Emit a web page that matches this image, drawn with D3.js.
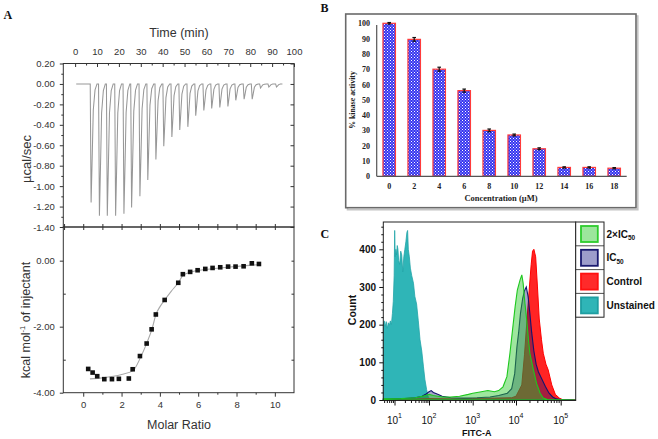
<!DOCTYPE html>
<html><head><meta charset="utf-8">
<script src="https://cdn.jsdelivr.net/npm/d3@7"></script>
<style>
html,body{margin:0;padding:0;background:#fff;}
svg{display:block;}
</style></head>
<body>
<svg id="fig" width="658" height="439"></svg>
<script>
// ---------------- Panel A : ITC raw thermogram ----------------
const injectionTimes = [7.0,10.8,14.4,18.2,22.0,25.5,29.3,32.9,36.6,40.2,43.9,47.5,51.2,54.8,58.5,62.1,65.8,69.5,73.1,76.9,80.6,84.4,88.2,91.7];
const peakHeats = [-1.16,-1.29,-1.29,-1.29,-1.27,-1.21,-1.10,-0.94,-0.74,-0.61,-0.52,-0.45,-0.42,-0.31,-0.26,-0.24,-0.23,-0.22,-0.16,-0.15,-0.15,-0.04,-0.03,-0.03];
const timeTicks = [0,10,20,30,40,50,60,70,80,90,100];
const rawTicks = [0.20,0.00,-0.20,-0.40,-0.60,-0.80,-1.00,-1.20,-1.40];
// spike shape template (minutes after injection, fraction of peak)
const spikeShape = [[-0.1,0],[0.3,1],[0.8,0.62],[1.3,0.22],[2.1,0.05],[3.0,0]];

// ---------------- Panel A : integrated heats ----------------
const molarRatio = [0.26,0.49,0.73,1.10,1.50,1.86,2.38,2.58,2.96,3.31,3.57,3.79,4.25,4.96,5.20,5.58,5.97,6.37,6.75,7.15,7.56,7.95,8.37,8.80,9.17];
const injHeat = [-3.28,-3.39,-3.50,-3.59,-3.59,-3.58,-3.57,-3.29,-2.89,-2.51,-2.08,-1.63,-1.19,-0.67,-0.41,-0.34,-0.29,-0.25,-0.22,-0.20,-0.18,-0.18,-0.17,-0.08,-0.10];
const fitRatio = [0.35,1.0,2.0,2.6,3.0,3.3,3.6,3.8,4.0,4.25,4.6,4.96,5.2,5.6,6.5,7.5,8.5,9.2];
const fitHeat = [-3.58,-3.55,-3.45,-3.33,-2.92,-2.52,-2.05,-1.62,-1.40,-1.19,-0.92,-0.67,-0.45,-0.35,-0.26,-0.20,-0.15,-0.12];
const molarTicks = [0,2,4,6,8,10];
const heatTicks = [0,-2,-4];

// ---------------- Panel B : kinase activity ----------------
const concentrations = ["0","2","4","6","8","10","12","14","16","18"];
const kinaseActivity = [100,89.5,70,56,30,27,18,5.8,5.8,5.3];
const activityError = [0.5,1.2,1.3,1.0,0.9,0.6,0.6,0.4,0.4,0.4];
const activityTicks = [0,10,20,30,40,50,60,70,80,90,100];

// ---------------- Panel C : flow cytometry ----------------
const fitcDecades = [1,2,3,4,5];
const countTicks = [0,100,200,300,400];
const legendNames = ["2×IC","IC","Control","Unstained"];
const unstained = [[0.675,200],[0.70,210],[0.73,195],[0.76,208],[0.79,190],[0.82,205],[0.85,198],[0.88,210],[0.91,200],[0.94,230],[0.965,262],[0.99,330],[1.005,450],[1.02,380],[1.04,400],[1.06,385],[1.08,410],[1.10,400],[1.12,370],[1.15,360],[1.18,395],[1.21,385],[1.24,340],[1.27,380],[1.30,400],[1.33,420],[1.36,445],[1.38,450],[1.40,400],[1.43,380],[1.46,350],[1.50,330],[1.55,310],[1.59,275],[1.64,255],[1.69,210],[1.74,160],[1.79,130],[1.84,88],[1.88,55],[1.93,28],[1.98,8],[2.03,2],[2.1,0]];
const ic50 = [[0.675,2],[1.0,3],[1.3,4],[1.6,6],[1.8,10],[1.9,15],[2.0,22],[2.05,25],[2.1,20],[2.2,15],[2.3,10],[2.5,6],[2.8,5],[3.1,6],[3.4,8],[3.6,12],[3.8,18],[3.9,30],[3.97,70],[4.02,140],[4.06,180],[4.10,230],[4.15,270],[4.19,290],[4.23,300],[4.27,275],[4.31,230],[4.35,180],[4.40,130],[4.45,95],[4.50,75],[4.58,55],[4.66,35],[4.74,18],[4.82,8],[4.9,3],[5.0,1],[5.34,0]];
const ic50x2 = [[0.675,3],[1.2,4],[1.6,6],[1.9,12],[2.0,15],[2.1,12],[2.3,8],[2.5,8],[2.7,10],[2.9,15],[3.0,18],[3.1,20],[3.2,22],[3.35,25],[3.5,22],[3.6,25],[3.7,35],[3.79,62],[3.86,124],[3.92,186],[3.98,248],[4.03,292],[4.09,318],[4.13,332],[4.16,310],[4.20,257],[4.24,212],[4.28,159],[4.31,124],[4.39,80],[4.46,44],[4.54,18],[4.61,5],[4.7,1],[5.34,0]];
const control = [[0.675,0],[1.5,2],[2.0,4],[2.5,3],[3.0,4],[3.5,5],[3.9,6],[4.0,10],[4.13,40],[4.19,120],[4.25,220],[4.30,300],[4.34,360],[4.37,395],[4.40,400],[4.44,380],[4.48,300],[4.52,215],[4.57,160],[4.61,124],[4.67,95],[4.72,80],[4.80,40],[4.88,15],[4.97,5],[5.06,0],[5.34,0]];

const svg = d3.select("#fig");
const SANS = "'Liberation Sans', Arial, sans-serif";
const SERIF = "'Liberation Serif', 'Times New Roman', serif";

function cleanAxis(g, col){
  g.select(".domain").remove();
  g.selectAll(".tick line").attr("stroke", col);
  g.selectAll("text").attr("font-family", SANS);
}

// ===== Panel A top =====
const xTime = d3.scaleLinear().domain([-5.4,100]).range([63.3,294]);
const yRaw = d3.scaleLinear().domain([-1.40,0.20]).range([227,63.5]);
const fmt2 = d => d.toFixed(2);

const trace = [[0.5,0]];
injectionTimes.forEach((t,i)=>{
  spikeShape.forEach(s=> trace.push([t+s[0], peakHeats[i]*s[1]]));
});
trace.push([93.6,0]);
svg.append("path")
  .attr("d", d3.line().x(d=>xTime(d[0])).y(d=>yRaw(d[1]))(trace))
  .attr("fill","none").attr("stroke","#979797").attr("stroke-width",1.05);

let g;
g = svg.append("g").attr("transform","translate(63.3,0)")
  .call(d3.axisLeft(yRaw).tickValues(rawTicks).tickFormat(fmt2).tickSize(3.5).tickPadding(5));
cleanAxis(g,"#333"); g.selectAll("text").attr("font-size",9.5).attr("fill","#333");
g = svg.append("g").attr("transform","translate(63.3,0)")
  .call(d3.axisLeft(yRaw).tickValues(d3.range(0.1,-1.41,-0.2)).tickFormat("").tickSize(2));
cleanAxis(g,"#333");
g = svg.append("g").attr("transform","translate(294,0)")
  .call(d3.axisRight(yRaw).tickValues(rawTicks).tickFormat("").tickSize(-3.5));
cleanAxis(g,"#333");
g = svg.append("g").attr("transform","translate(0,63.5)")
  .call(d3.axisTop(xTime).tickValues(timeTicks).tickSize(-3.5).tickPadding(8.3));
cleanAxis(g,"#333"); g.selectAll("text").attr("font-size",9.5).attr("fill","#333");
g = svg.append("g").attr("transform","translate(0,63.5)")
  .call(d3.axisTop(xTime).tickValues(d3.range(5,100,10)).tickFormat("").tickSize(-2));
cleanAxis(g,"#333");

// ===== Panel A bottom =====
const xMolar = d3.scaleLinear().domain([-1.04,11.0]).range([63.3,294]);
const yKcal = d3.scaleLinear().domain([-4.0,1.02]).range([392.7,227]);

g = svg.append("g").attr("transform","translate(0,227)")
  .call(d3.axisBottom(xMolar).tickValues(d3.range(-1,11,1)).tickFormat("").tickSize(-3));
cleanAxis(g,"#333");
g = svg.append("g").attr("transform","translate(0,227)")
  .call(d3.axisTop(xMolar).tickValues(d3.range(-1,11,1)).tickFormat("").tickSize(-3));
cleanAxis(g,"#333");
g = svg.append("g").attr("transform","translate(63.3,0)")
  .call(d3.axisLeft(yKcal).tickValues(heatTicks).tickFormat(fmt2).tickSize(3.5).tickPadding(5));
cleanAxis(g,"#333"); g.selectAll("text").attr("font-size",9.5).attr("fill","#333");
g = svg.append("g").attr("transform","translate(63.3,0)")
  .call(d3.axisLeft(yKcal).tickValues([-1,-3]).tickFormat("").tickSize(-2.5));
cleanAxis(g,"#333");
g = svg.append("g").attr("transform","translate(294,0)")
  .call(d3.axisRight(yKcal).tickValues([0,-1,-2,-3]).tickFormat("").tickSize(-2.5));
cleanAxis(g,"#333");
g = svg.append("g").attr("transform","translate(0,392.7)")
  .call(d3.axisBottom(xMolar).tickValues(molarTicks).tickSize(4).tickPadding(5));
cleanAxis(g,"#333"); g.selectAll("text").attr("font-size",9.5).attr("fill","#333");
g = svg.append("g").attr("transform","translate(0,392.7)")
  .call(d3.axisBottom(xMolar).tickValues([1,3,5,7,9]).tickFormat("").tickSize(2));
cleanAxis(g,"#333");

svg.append("path")
  .attr("d", d3.line().x((d,i)=>xMolar(fitRatio[i])).y((d,i)=>yKcal(fitHeat[i])).curve(d3.curveMonotoneX)(fitRatio))
  .attr("fill","none").attr("stroke","#a8a8a8").attr("stroke-width",1.1);
svg.append("g").selectAll("rect").data(molarRatio).join("rect")
  .attr("x",(d)=>xMolar(d)-2.3).attr("y",(d,i)=>yKcal(injHeat[i])-2.3)
  .attr("width",4.6).attr("height",4.6).attr("fill","#111");

// frames
svg.append("rect").attr("x",63.3).attr("y",63.5).attr("width",230.7).attr("height",163.5)
  .attr("fill","none").attr("stroke","#333").attr("stroke-width",1);
svg.append("rect").attr("x",63.3).attr("y",227).attr("width",230.7).attr("height",165.7)
  .attr("fill","none").attr("stroke","#333").attr("stroke-width",1);

// titles
svg.append("text").attr("x",179).attr("y",36.5).attr("text-anchor","middle")
  .attr("font-family",SANS).attr("font-size",12.5).attr("fill","#333").text("Time (min)");
svg.append("text").attr("transform","translate(31,159) rotate(-90)").attr("text-anchor","middle")
  .attr("font-family",SANS).attr("font-size",13).attr("fill","#333").text("µcal/sec");
const kt = svg.append("text").attr("transform","translate(29.5,320) rotate(-90)").attr("text-anchor","middle")
  .attr("font-family",SANS).attr("font-size",12.5).attr("fill","#333");
kt.append("tspan").text("kcal mol");
kt.append("tspan").attr("font-size",7.5).attr("dy",-5).text("-1");
kt.append("tspan").attr("dy",5).text(" of injectant");
svg.append("text").attr("x",179).attr("y",428.5).attr("text-anchor","middle")
  .attr("font-family",SANS).attr("font-size",12.5).attr("fill","#333").text("Molar Ratio");

// panel letters
[["A",3.5,19.3],["B",320.5,11.7],["C",320.5,238.3]].forEach(p=>{
  svg.append("text").attr("x",p[1]).attr("y",p[2]).attr("font-family",SERIF)
    .attr("font-weight","bold").attr("font-size",12).attr("fill","#111").text(p[0]);
});

// ===== Panel B =====
svg.append("rect").attr("x",347.5).attr("y",16).attr("width",290.3).attr("height",193.7)
  .attr("fill","none").attr("stroke","#c4c4c4").attr("stroke-width",1.6);
svg.append("rect").attr("x",345.7).attr("y",14).attr("width",290.3).attr("height",193.7)
  .attr("fill","#fff").attr("stroke","#6a6a6a").attr("stroke-width",1.6);

const defs = svg.append("defs");
const pat = defs.append("pattern").attr("id","chk").attr("patternUnits","userSpaceOnUse")
  .attr("width",3).attr("height",3);
pat.append("rect").attr("width",3).attr("height",3).attr("fill","#3434f0");
pat.append("rect").attr("width",1).attr("height",1).attr("fill","#ffffff");
pat.append("rect").attr("x",1.5).attr("y",1.5).attr("width",1).attr("height",1).attr("fill","#dcdcff");

const xB = d3.scaleBand().domain(concentrations).range([376.7,626.7]).paddingInner(0.5).paddingOuter(0.25);
const yB = d3.scaleLinear().domain([0,100]).range([176.3,23.3]);

svg.append("g").selectAll("rect").data(concentrations).join("rect")
  .attr("x",d=>xB(d)).attr("y",(d,i)=>yB(kinaseActivity[i]))
  .attr("width",xB.bandwidth()).attr("height",(d,i)=>yB(0)-yB(kinaseActivity[i]))
  .attr("fill","url(#chk)").attr("stroke","#ff3b3b").attr("stroke-width",1.2);
const eb = svg.append("g").attr("stroke","#111").attr("stroke-width",1.2);
concentrations.forEach((c,i)=>{
  const cx = xB(c)+xB.bandwidth()/2;
  const v = kinaseActivity[i], e = activityError[i];
  eb.append("line").attr("x1",cx).attr("x2",cx).attr("y1",yB(v+e)).attr("y2",yB(v-e));
  eb.append("line").attr("x1",cx-1.8).attr("x2",cx+1.8).attr("y1",yB(v+e)).attr("y2",yB(v+e));
  eb.append("line").attr("x1",cx-1.8).attr("x2",cx+1.8).attr("y1",yB(v-e)).attr("y2",yB(v-e));
});

g = svg.append("g").attr("transform","translate(376.7,0)")
  .call(d3.axisLeft(yB).tickValues(activityTicks).tickSize(0).tickPadding(6.7));
g.select(".domain").attr("stroke","#555").attr("stroke-width",1.2).attr("d","M0,25V176.3");
g.selectAll("text").attr("font-family",SERIF).attr("font-weight","bold").attr("font-size",8).attr("fill","#222");
g = svg.append("g").attr("transform","translate(0,176.3)")
  .call(d3.axisBottom(xB).tickSize(0).tickPadding(7));
g.select(".domain").attr("stroke","#555").attr("stroke-width",1.2).attr("d","M376.7,0H626.7");
g.selectAll("text").attr("font-family",SERIF).attr("font-weight","bold").attr("font-size",8).attr("fill","#222");

svg.append("text").attr("transform","translate(355,100) rotate(-90)").attr("text-anchor","middle")
  .attr("font-family",SERIF).attr("font-weight","bold").attr("font-size",7.8).attr("fill","#222").text("% kinase activity");
svg.append("text").attr("x",501).attr("y",200.5).attr("text-anchor","middle")
  .attr("font-family",SERIF).attr("font-weight","bold").attr("font-size",8.5).attr("fill","#222").text("Concentration  (µM)");

// ===== Panel C =====
const xC = d3.scaleLinear().domain([0.675,1,2,3,4,5,5.34]).range([383.3,394.5,429,472.7,516,560.7,575.7]);
const yC = d3.scaleLinear().domain([0,400]).range([400,249.3]);
const areaC = d3.area().x(d=>xC(d[0])).y0(yC(0)).y1(d=>yC(d[1]));

svg.append("path").attr("d",areaC(unstained)).attr("fill","#2fb5b7").attr("stroke","#22a5a8").attr("stroke-width",0.8);
svg.append("path").attr("d",areaC(control)).attr("fill","#ff2424").attr("stroke","#ff0000").attr("stroke-width",1);
svg.append("path").attr("d",areaC(ic50)).attr("fill","rgba(20,20,110,0.38)").attr("stroke","#14146e").attr("stroke-width",1.1);
svg.append("path").attr("d",areaC(ic50x2)).attr("fill","rgba(40,200,40,0.45)").attr("stroke","#1ec81e").attr("stroke-width",1.1);

svg.append("rect").attr("x",383.3).attr("y",222).attr("width",192.4).attr("height",178.5)
  .attr("fill","none").attr("stroke","#222").attr("stroke-width",1);

g = svg.append("g").attr("transform","translate(383.3,0)")
  .call(d3.axisLeft(yC).tickValues(countTicks).tickSize(4).tickPadding(3.3));
cleanAxis(g,"#111");
g.selectAll("text").attr("font-weight","bold").attr("font-size",10).attr("fill","#111");
g = svg.append("g").attr("transform","translate(383.3,0)")
  .call(d3.axisLeft(yC).tickValues(d3.range(20,461,20).filter(v=>v%100!==0)).tickFormat("").tickSize(2));
cleanAxis(g,"#111");

const minorLog = [];
[0,1,2,3,4].forEach(dd=>{ [2,3,4,5,6,7,8,9].forEach(m=>{ const v=dd+Math.log10(m); if(v>0.68 && v<5.34) minorLog.push(v); }); });
g = svg.append("g").attr("transform","translate(0,400.5)")
  .call(d3.axisBottom(xC).tickValues(fitcDecades).tickFormat("").tickSize(5));
cleanAxis(g,"#111");
g = svg.append("g").attr("transform","translate(0,400.5)")
  .call(d3.axisBottom(xC).tickValues(minorLog).tickFormat("").tickSize(2.5));
cleanAxis(g,"#111");
fitcDecades.forEach(dd=>{
  const t = svg.append("text").attr("x",xC(dd)).attr("y",423.5).attr("text-anchor","middle")
    .attr("font-family",SANS).attr("font-size",10).attr("fill","#111");
  t.append("tspan").text("10");
  t.append("tspan").attr("font-size",7).attr("dy",-5.5).text(String(dd));
});
svg.append("text").attr("x",476.7).attr("y",435.5).attr("text-anchor","middle")
  .attr("font-family",SANS).attr("font-weight","bold").attr("font-size",9).attr("fill","#111").text("FITC-A");
svg.append("text").attr("transform","translate(355.5,310) rotate(-90)").attr("text-anchor","middle")
  .attr("font-family",SANS).attr("font-weight","bold").attr("font-size",10.5).attr("fill","#111").text("Count");

// legend
const legFill = ["#9ce69c","#9d9dcb","#ff2a2a","#2fb5b7"];
const legStroke = ["#2ecc2e","#1a1a70","#ff1010","#1f9ea1"];
const rowY = [222,245.8,269.6,293.4];
svg.append("rect").attr("x",575.7).attr("y",222).attr("width",28.3).attr("height",95.2)
  .attr("fill","#fff").attr("stroke","#222").attr("stroke-width",1);
legendNames.forEach((n,i)=>{
  const y0 = rowY[i];
  if(i>0) svg.append("line").attr("x1",575.7).attr("x2",604).attr("y1",y0).attr("y2",y0).attr("stroke","#222").attr("stroke-width",0.8);
  svg.append("rect").attr("x",581).attr("y",y0+4).attr("width",16.8).attr("height",16)
    .attr("fill",legFill[i]).attr("stroke",legStroke[i]).attr("stroke-width",1.8);
  const t = svg.append("text").attr("x",606.5).attr("y",y0+15.5)
    .attr("font-family",SANS).attr("font-weight","bold").attr("font-size",10).attr("fill","#111");
  t.append("tspan").text(n);
  if(i<2) t.append("tspan").attr("font-size",6.5).attr("dy",2.5).text("50");
});
</script>
</body></html>
